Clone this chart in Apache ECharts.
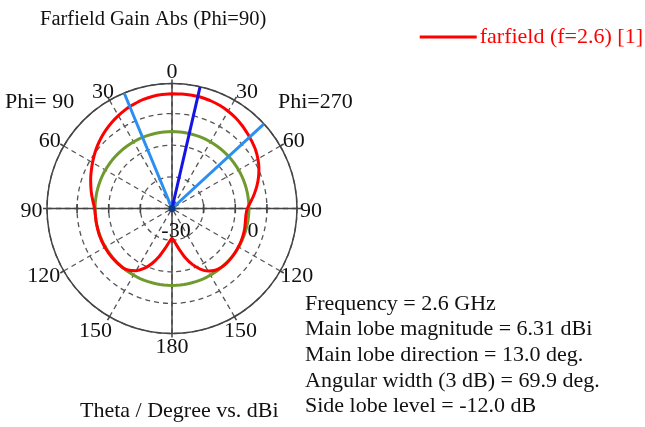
<!DOCTYPE html>
<html>
<head>
<meta charset="utf-8">
<script src="https://cdn.jsdelivr.net/npm/echarts@6/dist/echarts.min.js"></script>
<style>
  html, body { margin: 0; padding: 0; background: #fff; }
  #chart { width: 645px; height: 427px; }
</style>
</head>
<body>
<div id="chart"></div>
<script>
// Farfield gain cut at Phi=90, theta in degrees (negative = Phi=90 side, positive = Phi=270 side)
const thetaDeg = [
  -175, -170, -165, -160, -155, -150, -145, -140, -130, -120, -110, -100, -95, -90,
  -85, -80, -75, -70, -65, -60, -55, -50, -45, -40, -35, -30, -25, -22.5, -20, -15, -10, -5,
  0, 5, 10, 13, 15, 20, 25, 30, 35, 40, 45, 47.4, 50, 55, 60, 65, 70, 75, 80, 85,
  90, 95, 100, 105, 110, 115, 120, 125, 130, 135, 140, 145, 150, 155, 160, 165, 170, 175, 180
];
const gainDbi = [
  -19.3, -17.1, -14.3, -11.5, -9.1, -7.3, -6.2, -5.65, -5.5, -5.5, -5.55, -5.65, -5.7, -5.55,
  -4.95, -4.2, -3.45, -2.65, -1.85, -1.0, -0.1, 0.8, 1.65, 2.45, 3.2, 3.9, 4.55, 4.85, 5.1, 5.6, 5.95, 6.15,
  6.25, 6.29, 6.31, 6.31, 6.3, 6.15, 5.9, 5.5, 5.0, 4.35, 3.65, 3.31, 2.95, 2.25, 1.35, 0.3, -0.9, -2.2, -3.6, -5.0,
  -6.2, -6.55, -6.45, -6.2, -6.0, -5.85, -5.75, -5.65, -5.6, -5.6, -5.75, -6.2, -7.2, -8.9, -11.2, -14.0, -16.9, -19.2, -20.6
];

// Summary values
const frequencyGHz = 2.6;
const mainLobeMagnitude = 6.31;
const mainLobeDirection = 13.0;
const angularWidth = 69.9;
const sideLobeLevel = -12.0;
const beamEdges = [-22.5, 47.4];

// Radial scale (dB) and angular ticks
const radiusMin = -30;
const radiusMax = 9.5;
const radiusStep = 10;
const angleStep = 30;
const radiusTickValues = [-20, -10, 0];
const radiusLabelValues = [-30, 0];
const angleTickValues = [0, 30, 60, 90, 120, 150, 180, 210, 240, 270, 300, 330];

const toAxisAngle = t => (t < 0 ? 360 + t : t);
const thetaText = a => String(a <= 180 ? a : 360 - a);
const serif = '"Liberation Serif", "DejaVu Serif", serif';

const curve = thetaDeg.map((t, i) => [gainDbi[i], toAxisAngle(t)]);
curve.sort((a, b) => a[1] - b[1]);
curve.push([curve[0][0], 360]);

const sideLobeCircle = [];
for (let a = 0; a <= 360; a += 3) sideLobeCircle.push([mainLobeMagnitude + sideLobeLevel, a]);

const ray = ang => [[radiusMin, toAxisAngle(ang)], [radiusMax, toAxisAngle(ang)]];

const tickMarks = [];
radiusTickValues.forEach(r => { tickMarks.push([r, 90]); tickMarks.push([r, 270]); });

// label nudges around the outer ring, keyed by angle
const ringLabelShift = {
  0: [0, -11.5], 30: [12.5, -8.5], 60: [13.5, -4.5], 90: [14, 3], 120: [16.5, 5.5], 150: [6, 14.5],
  180: [0, 13.5], 210: [-14, 14.5], 240: [-20, 5.5], 270: [-15.5, 3], 300: [-14, -4.5], 330: [-6.5, -8.5]
};
const ringLabels = angleTickValues.map(a => ({
  value: [radiusMax, a],
  label: { offset: ringLabelShift[a] }
}));

const radiusLabelShift = { '-30': [4, 22.5], '0': [-14, 22.5] };
const radiusLabels = radiusLabelValues.map(r => ({
  value: [r, r === radiusMin ? 180 : 90],
  label: { offset: radiusLabelShift[String(r)] }
}));

const chart = echarts.init(document.getElementById('chart'), null, { renderer: 'canvas' });

const plainText = size => ({ fontFamily: serif, fontSize: size, fontWeight: 'normal', color: '#111' });
const markLabel = {
  show: true, position: 'inside',
  fontFamily: serif, fontSize: 22, color: '#111', opacity: 1,
  textBorderWidth: 0, textBorderColor: 'transparent'
};

chart.setOption({
  animation: false,
  backgroundColor: '#fff',
  title: [
    { text: 'Farfield Gain Abs (Phi=90)', left: 35, top: 4, textStyle: plainText(20.5) },
    {
      text: [
        'Frequency = ' + frequencyGHz + ' GHz',
        'Main lobe magnitude = ' + mainLobeMagnitude.toFixed(2) + ' dBi',
        'Main lobe direction = ' + mainLobeDirection.toFixed(1) + ' deg.',
        'Angular width (3 dB) = ' + angularWidth.toFixed(1) + ' deg.',
        'Side lobe level = ' + sideLobeLevel.toFixed(1) + ' dB'
      ].join('\n'),
      left: 300, top: 286,
      textStyle: Object.assign(plainText(22), { lineHeight: 25.7 })
    },
    { text: 'Theta / Degree vs. dBi', left: 75, top: 395, textStyle: plainText(22) },
    { text: 'Phi= 90', left: 0, top: 86, textStyle: plainText(22) },
    { text: 'Phi=270', left: 273, top: 86, textStyle: plainText(22) }
  ],
  legend: {
    right: 2, top: 26, padding: 0,
    icon: 'rect',
    itemWidth: 57, itemHeight: 3,
    data: ['farfield (f=2.6) [1]'],
    textStyle: { fontFamily: serif, fontSize: 22, color: '#ff0000', padding: [0, 0, 0, -2] }
  },
  polar: { center: [172, 208.5], radius: 125 },
  angleAxis: {
    type: 'value',
    min: 0, max: 360, interval: angleStep,
    startAngle: 90, clockwise: true,
    axisLine: { lineStyle: { color: '#444', width: 1.5 } },
    axisTick: { show: true, length: 4, lineStyle: { color: '#444', width: 1.5 } },
    axisLabel: { show: false },
    splitLine: { show: true, lineStyle: { color: '#555', type: [5, 4], width: 1.3 } }
  },
  radiusAxis: {
    type: 'value',
    min: radiusMin, max: radiusMax, interval: radiusStep,
    axisLine: { show: false },
    axisTick: { show: false },
    axisLabel: { show: false },
    splitLine: { show: true, lineStyle: { color: '#555', type: [5, 4], width: 1.3 } }
  },
  series: [
    {
      type: 'line', coordinateSystem: 'polar', silent: true, symbol: 'none',
      lineStyle: { color: '#444', width: 1.5 },
      data: [[radiusMax, 90], [radiusMin, 90], [radiusMax, 270]], z: 3
    },
    {
      type: 'line', coordinateSystem: 'polar', silent: true, symbol: 'none',
      lineStyle: { color: '#444', width: 1.5 },
      data: [[radiusMax, 0], [radiusMin, 0], [radiusMax, 180]], z: 3
    },
    {
      type: 'scatter', coordinateSystem: 'polar', silent: true,
      symbol: 'rect', symbolSize: [1.6, 9],
      itemStyle: { color: '#444', opacity: 1 },
      data: tickMarks, z: 3
    },
    {
      name: 'side lobe level',
      type: 'line', coordinateSystem: 'polar', silent: true, symbol: 'none',
      lineStyle: { color: '#6f9a2e', width: 3 },
      data: sideLobeCircle, z: 4
    },
    {
      name: 'farfield (f=2.6) [1]',
      type: 'line', coordinateSystem: 'polar', silent: true, symbol: 'none',
      smooth: 0.2,
      itemStyle: { color: '#ff0000' },
      lineStyle: { color: '#ff0000', width: 3 },
      data: curve, z: 5
    },
    {
      type: 'line', coordinateSystem: 'polar', silent: true, symbol: 'none',
      lineStyle: { color: '#2a8ff0', width: 3 },
      data: ray(beamEdges[0]), z: 6
    },
    {
      type: 'line', coordinateSystem: 'polar', silent: true, symbol: 'none',
      lineStyle: { color: '#2a8ff0', width: 3 },
      data: ray(beamEdges[1]), z: 6
    },
    {
      type: 'line', coordinateSystem: 'polar', silent: true, symbol: 'none',
      lineStyle: { color: '#1414e6', width: 3 },
      data: ray(mainLobeDirection), z: 7
    },
    {
      type: 'scatter', coordinateSystem: 'polar', silent: true,
      symbol: 'circle', symbolSize: 7,
      itemStyle: { color: '#0a3a8a', opacity: 1 },
      data: [[radiusMin, 0]], z: 8
    },
    {
      type: 'scatter', coordinateSystem: 'polar', silent: true,
      symbolSize: 0,
      itemStyle: { opacity: 1 },
      data: ringLabels,
      label: Object.assign({}, markLabel, { formatter: p => thetaText(p.value[1]) }),
      z: 9
    },
    {
      type: 'scatter', coordinateSystem: 'polar', silent: true,
      symbolSize: 0,
      itemStyle: { opacity: 1 },
      data: radiusLabels,
      label: Object.assign({}, markLabel, { formatter: p => String(p.value[0]) }),
      z: 9
    }
  ]
});
</script>
</body>
</html>
